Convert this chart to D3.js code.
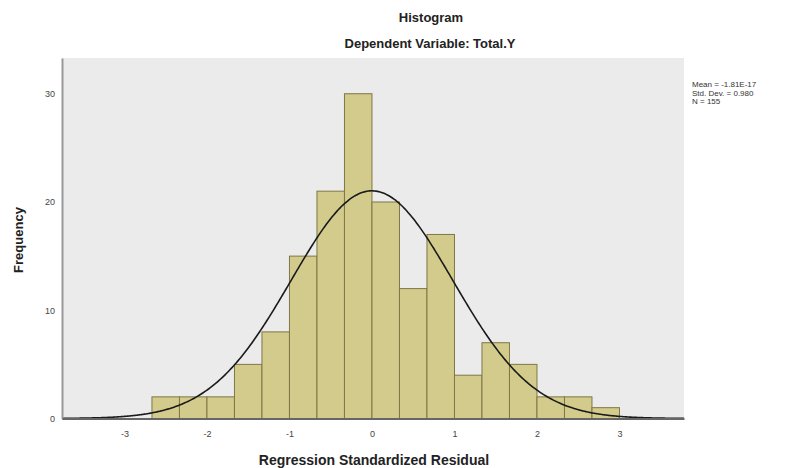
<!DOCTYPE html>
<html><head><meta charset="utf-8">
<script src="https://cdn.jsdelivr.net/npm/d3@7"></script>
<style>body{margin:0;background:#fff}svg{display:block}text{font-family:"Liberation Sans",Arial,sans-serif}</style>
</head><body><svg id="c" width="785" height="468"></svg>
<script>
const binStart = -8/3;
const binWidth = 1/3;
const counts = [2,2,2,5,8,15,21,30,20,12,17,4,7,5,2,2,1];
const xTicks = [-3,-2,-1,0,1,2,3];
const yTicks = [0,10,20,30];
const statMean = -1.81e-17, statSD = 0.980, statN = 155;
const statLines = ["Mean = -1.81E-17","Std. Dev. = 0.980","N = 155"];

const svg = d3.select("#c");
const L=62, R=684, T=58, B=418.5;
const x = d3.scaleLinear().domain([-3.757,3.782]).range([L,R]);
const y = d3.scaleLinear().domain([0,33.3]).range([B,T]);

svg.append("rect").attr("x",L).attr("y",T).attr("width",R-L).attr("height",B-T).attr("fill","#ebebeb");

const bins = counts.map((c,i)=>({x0:binStart+i*binWidth,x1:binStart+(i+1)*binWidth,c}));
svg.append("g").selectAll("rect").data(bins).join("rect")
  .attr("x",d=>x(d.x0)).attr("width",d=>x(d.x1)-x(d.x0))
  .attr("y",d=>y(d.c)).attr("height",d=>y(0)-y(d.c))
  .attr("fill","#d2cb8b").attr("stroke","#7f7746").attr("stroke-width",1);

// fitted normal curve from reported statistics
const pts = d3.range(0,401).map(i=>{
  const v = -3.757 + i*(3.782+3.757)/400;
  const z = (v-statMean)/statSD;
  return [v, statN*binWidth*Math.exp(-0.5*z*z)/(statSD*Math.sqrt(2*Math.PI))];
});
svg.append("path").datum(pts).attr("fill","none").attr("stroke","#1a1a1a").attr("stroke-width",1.6)
  .attr("d",d3.line().x(d=>x(d[0])).y(d=>y(d[1])).curve(d3.curveBasis));

// axes
const ya = svg.append("g").attr("transform",`translate(${L},0)`)
  .call(d3.axisLeft(y).tickValues(yTicks).tickSize(0).tickPadding(7).tickFormat(d=>String(d)));
ya.select(".domain").attr("stroke","#999").attr("stroke-width",2);
ya.selectAll("text").attr("font-size",9).attr("fill","#444");
const xa = svg.append("g").attr("transform",`translate(0,${B})`)
  .call(d3.axisBottom(x).tickValues(xTicks).tickSize(0).tickPadding(12).tickFormat(d=>String(d)));
xa.select(".domain").attr("stroke","#666").attr("stroke-width",2);
xa.selectAll("text").attr("font-size",9).attr("fill","#444");

svg.append("text").attr("x",431).attr("y",22).attr("text-anchor","middle")
  .attr("font-size",13).attr("font-weight","bold").attr("fill","#222").text("Histogram");
svg.append("text").attr("x",430).attr("y",48).attr("text-anchor","middle")
  .attr("font-size",13).attr("font-weight","bold").attr("fill","#222").text("Dependent Variable: Total.Y");
svg.append("text").attr("x",374).attr("y",465).attr("text-anchor","middle")
  .attr("font-size",14).attr("font-weight","bold").attr("fill","#222").text("Regression Standardized Residual");
svg.append("text").attr("transform","translate(23,240) rotate(-90)").attr("text-anchor","middle")
  .attr("font-size",13).attr("font-weight","bold").attr("fill","#222").text("Frequency");
svg.append("g").selectAll("text").data(statLines).join("text")
  .attr("x",692).attr("y",(d,i)=>87+i*8.5).attr("font-size",8).attr("fill","#333").text(d=>d);
</script></body></html>
